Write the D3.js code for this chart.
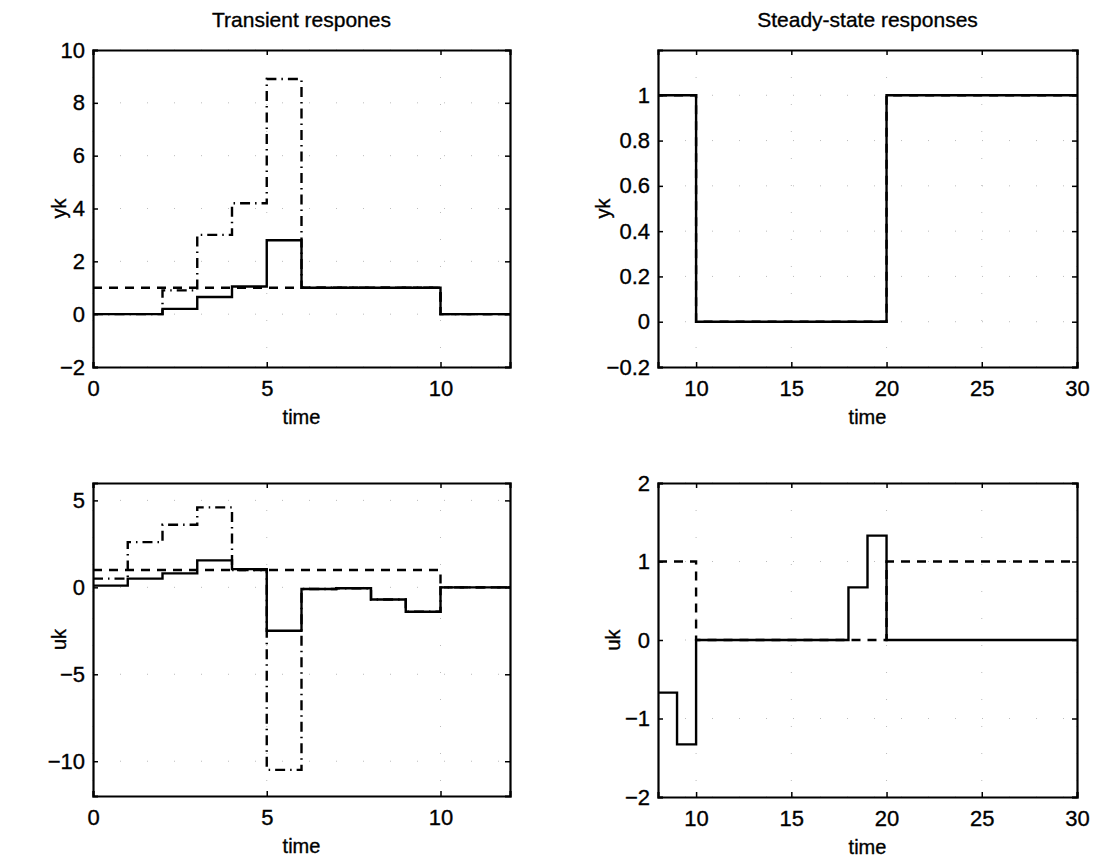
<!DOCTYPE html>
<meta charset="utf-8">
<style>
    body { margin: 0; background: white; }
    svg { display: block; }
    text { font-family: "Liberation Sans", Arial, sans-serif; fill: #000; stroke: #000; stroke-width: 0.35px; }
</style>
<svg width="1098" height="862"></svg>
<script src="https://d3js.org/d3.v7.min.js"></script>
<script>
// transient responses, one sample per time step
var tTrans = [0, 1, 2, 3, 4, 5, 6, 7, 8, 9, 10, 11, 12];
var ykTrans = [0, 0, 0.2, 0.65, 1.05, 2.8, 1, 1, 1, 1, 0, 0, 0];
var ykTransRef = [1, 1, 1, 1, 1, 1, 1, 1, 1, 1, 0, 0, 0];
var ykTransFree = [0, 0, 0.9, 3.0, 4.2, 8.9, 1, 1, 1, 1, 0, 0, 0];
var ukTrans = [0.1, 0.5, 0.8, 1.55, 1.05, -2.5, -0.1, -0.05, -0.7, -1.4, 0, 0, 0];
var ukTransRef = [1, 1, 1, 1, 1, 1, 1, 1, 1, 1, 0, 0, 0];
var ukTransFree = [0.5, 2.6, 3.6, 4.6, 1.0, -10.5, -0.1, -0.05, -0.7, -1.4, 0, 0, 0];

// steady-state responses, break points of the staircase
var tSS = [8, 9, 10, 18, 19, 20, 30];
var ykSS = [1, 1, 0, 0, 0, 1, 1];
var ykSSRef = [1, 1, 0, 0, 0, 1, 1];
var ukSS = [-0.67, -1.33, 0, 0.67, 1.33, 0, 0];
var ukSSRef = [1, 1, 0, 0, 0, 1, 1];

// tick labels
var xTicksTrans = [0, 5, 10];
var xTicksSS = [10, 15, 20, 25, 30];
var yTicksYkTrans = [-2, 0, 2, 4, 6, 8, 10];
var yTicksUkTrans = [-10, -5, 0, 5];
var yTicksYkSS = [-0.2, 0, 0.2, 0.4, 0.6, 0.8, 1];
var yTicksUkSS = [-2, -1, 0, 1, 2];

var svg = d3.select("svg");

var dashStyles = {
    solid: null,
    dashed: "9,7",
    dashdot: "10,5,1.5,5"
};

function drawPanel(p) {
    var x = d3.scaleLinear().domain(p.xDomain).range([p.left, p.right]);
    var y = d3.scaleLinear().domain(p.yDomain).range([p.bottom, p.top]);
    var g = svg.append("g");

    // dotted grid, nearly lost in the print
    p.xTicks.forEach(function(t) {
        g.append("line")
            .attr("x1", x(t)).attr("x2", x(t))
            .attr("y1", p.top).attr("y2", p.bottom)
            .style("stroke", "#bbb").style("stroke-width", 1)
            .style("stroke-dasharray", "1,26");
    });
    p.yTicks.forEach(function(t) {
        g.append("line")
            .attr("x1", p.left).attr("x2", p.right)
            .attr("y1", y(t)).attr("y2", y(t))
            .style("stroke", "#bbb").style("stroke-width", 1)
            .style("stroke-dasharray", "1,26");
    });

    var line = d3.line()
        .x(function(d) { return x(d[0]); })
        .y(function(d) { return y(d[1]); })
        .curve(d3.curveStepAfter);

    p.series.forEach(function(s) {
        g.append("path")
            .datum(d3.zip(p.t, s.values))
            .attr("d", line)
            .style("fill", "none")
            .style("stroke", "#000")
            .style("stroke-width", 2.4)
            .style("stroke-dasharray", dashStyles[s.style]);
    });

    // box with inward ticks on all sides
    var axB = d3.axisBottom(x).tickValues(p.xTicks).tickSize(-5).tickPadding(13)
        .tickFormat(d3.format("d"));
    var axT = d3.axisTop(x).tickValues(p.xTicks).tickSize(-5).tickFormat("");
    var axL = d3.axisLeft(y).tickValues(p.yTicks).tickSize(-5).tickPadding(8)
        .tickFormat(p.yFormat);
    var axR = d3.axisRight(y).tickValues(p.yTicks).tickSize(-5).tickFormat("");

    [[axB, "translate(0," + p.bottom + ")"], [axT, "translate(0," + p.top + ")"],
     [axL, "translate(" + p.left + ",0)"], [axR, "translate(" + p.right + ",0)"]]
        .forEach(function(a) {
            var ga = g.append("g").attr("transform", a[1]).call(a[0]);
            ga.select(".domain").style("stroke", "#000").style("stroke-width", 2.2);
            ga.selectAll(".tick line").style("stroke", "#000").style("stroke-width", 1.5);
            ga.selectAll("text").style("font-size", "22px")
                .style("font-family", "Liberation Sans, Arial, sans-serif");
        });

    g.append("text")
        .attr("x", (p.left + p.right) / 2)
        .attr("y", p.bottom + 57)
        .attr("text-anchor", "middle")
        .style("font-size", "20px")
        .text("time");

    g.append("text")
        .attr("transform", "translate(" + p.yLabelX + "," + ((p.top + p.bottom) / 2) + ") rotate(-90)")
        .attr("text-anchor", "middle")
        .style("font-size", "20px")
        .text(p.yLabel);

    if (p.title) {
        g.append("text")
            .attr("x", (p.left + p.right) / 2)
            .attr("y", p.top - 23)
            .attr("text-anchor", "middle")
            .style("font-size", "21px")
            .text(p.title);
    }
}

var fmt = function(d) { return d3.format("")(d).replace("-", "\u2212"); };

drawPanel({
    left: 93, right: 510, top: 50, bottom: 367,
    xDomain: [0, 12], yDomain: [-2, 10],
    xTicks: xTicksTrans, yTicks: yTicksYkTrans, yFormat: fmt,
    t: tTrans,
    series: [
        { values: ykTransRef, style: "dashed" },
        { values: ykTransFree, style: "dashdot" },
        { values: ykTrans, style: "solid" }
    ],
    yLabel: "yk", yLabelX: 66, title: "Transient respones"
});

drawPanel({
    left: 93, right: 510, top: 483, bottom: 796,
    xDomain: [0, 12], yDomain: [-12, 6],
    xTicks: xTicksTrans, yTicks: yTicksUkTrans, yFormat: fmt,
    t: tTrans,
    series: [
        { values: ukTransRef, style: "dashed" },
        { values: ukTransFree, style: "dashdot" },
        { values: ukTrans, style: "solid" }
    ],
    yLabel: "uk", yLabelX: 66
});

drawPanel({
    left: 658, right: 1077, top: 50, bottom: 367,
    xDomain: [8, 30], yDomain: [-0.2, 1.2],
    xTicks: xTicksSS, yTicks: yTicksYkSS, yFormat: fmt,
    t: tSS,
    series: [
        { values: ykSSRef, style: "dashed" },
        { values: ykSS, style: "solid" }
    ],
    yLabel: "yk", yLabelX: 610, title: "Steady-state responses"
});

drawPanel({
    left: 658, right: 1077, top: 483, bottom: 797,
    xDomain: [8, 30], yDomain: [-2, 2],
    xTicks: xTicksSS, yTicks: yTicksUkSS, yFormat: fmt,
    t: tSS,
    series: [
        { values: ukSSRef, style: "dashed" },
        { values: ukSS, style: "solid" }
    ],
    yLabel: "uk", yLabelX: 620
});
</script>
